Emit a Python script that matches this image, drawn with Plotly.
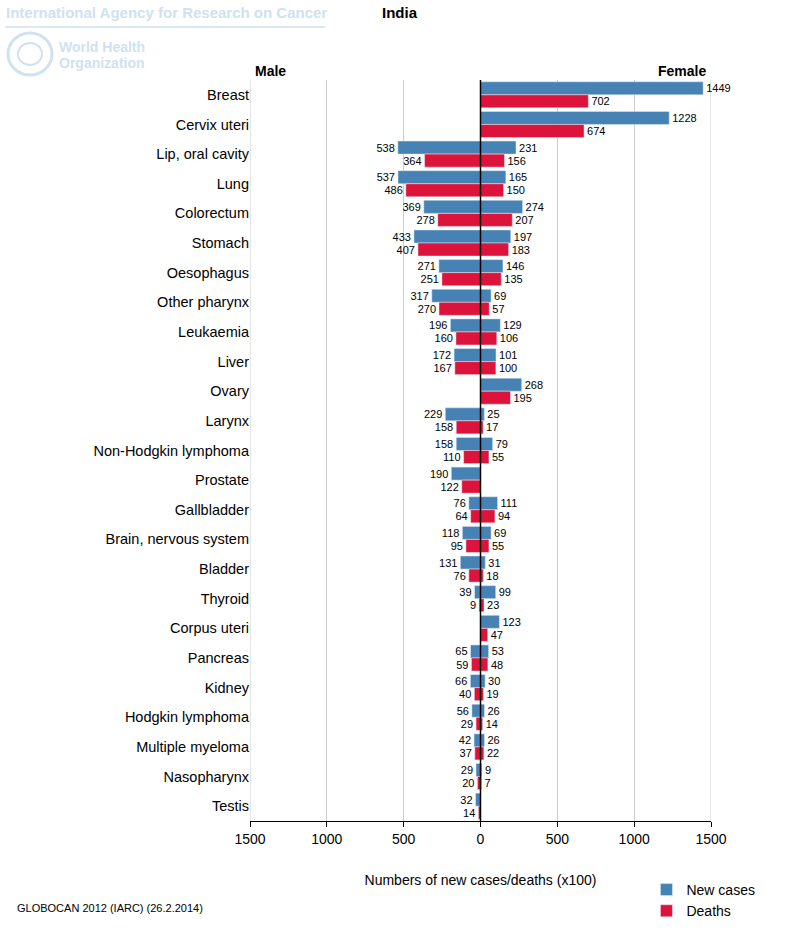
import plotly.graph_objects as go

categories = ["Breast", "Cervix uteri", "Lip, oral cavity", "Lung", "Colorectum", "Stomach",
              "Oesophagus", "Other pharynx", "Leukaemia", "Liver", "Ovary", "Larynx",
              "Non-Hodgkin lymphoma", "Prostate", "Gallbladder", "Brain, nervous system",
              "Bladder", "Thyroid", "Corpus uteri", "Pancreas", "Kidney", "Hodgkin lymphoma",
              "Multiple myeloma", "Nasopharynx", "Testis"]

male_new = [None, None, 538, 537, 369, 433, 271, 317, 196, 172, None, 229, 158, 190, 76, 118,
            131, 39, None, 65, 66, 56, 42, 29, 32]
male_deaths = [None, None, 364, 486, 278, 407, 251, 270, 160, 167, None, 158, 110, 122, 64, 95,
               76, 9, None, 59, 40, 29, 37, 20, 14]
female_new = [1449, 1228, 231, 165, 274, 197, 146, 69, 129, 101, 268, 25, 79, None, 111, 69,
              31, 99, 123, 53, 30, 26, 26, 9, None]
female_deaths = [702, 674, 156, 150, 207, 183, 135, 57, 106, 100, 195, 17, 55, None, 94, 55,
                 18, 23, 47, 48, 19, 14, 22, 7, None]

x_tickvals = [-1500, -1000, -500, 0, 500, 1000, 1500]
x_ticktext = ["1500", "1000", "500", "0", "500", "1000", "1500"]

BLUE = "#4682B4"
RED = "#DC143C"
FONT = "Liberation Sans, Arial, sans-serif"

idx = list(range(len(categories)))
y_new = [i - 0.22 for i in idx]
y_dea = [i + 0.22 for i in idx]

def neg(vals):
    return [(-v if v is not None else None) for v in vals]

def txt(vals):
    return [(str(v) if v is not None else "") for v in vals]

fig = go.Figure()
common = dict(orientation="h", width=0.44, textposition="outside", cliponaxis=False,
              constraintext="none", textfont=dict(size=11, color="black", family=FONT),
              hoverinfo="skip")
fig.add_trace(go.Bar(x=neg(male_new), y=y_new, text=txt(male_new), marker_color=BLUE,
                     name="New cases", legendgroup="new", showlegend=True, **common))
fig.add_trace(go.Bar(x=neg(male_deaths), y=y_dea, text=txt(male_deaths), marker_color=RED,
                     name="Deaths", legendgroup="dea", showlegend=True, **common))
fig.add_trace(go.Bar(x=female_new, y=y_new, text=txt(female_new), marker_color=BLUE,
                     name="New cases", legendgroup="new", showlegend=False, **common))
fig.add_trace(go.Bar(x=female_deaths, y=y_dea, text=txt(female_deaths), marker_color=RED,
                     name="Deaths", legendgroup="dea", showlegend=False, **common))

fig.update_layout(
    width=800, height=930,
    margin=dict(l=250, r=89, t=80, b=109, autoexpand=False),
    paper_bgcolor="white", plot_bgcolor="white",
    barmode="overlay",
    font=dict(family=FONT, size=14, color="black"),
    showlegend=True,
    legend=dict(x=0.86, y=-0.0715, xanchor="left", yanchor="top", font=dict(size=14),
                itemwidth=30, tracegroupgap=0, bgcolor="rgba(0,0,0,0)"),
    xaxis=dict(range=[-1500, 1500], tickvals=x_tickvals, ticktext=x_ticktext,
               showgrid=True, gridcolor="#cccccc", gridwidth=1, zeroline=False,
               showline=True, linecolor="black", linewidth=1, ticks="outside",
               ticklen=5, tickcolor="black", tickfont=dict(size=14), ticklabelstandoff=0,
               automargin=False,
               title=dict(text="Numbers of new cases/deaths (x100)", font=dict(size=14),
                          standoff=29)),
    yaxis=dict(range=[24.5, -0.5], tickvals=idx, ticktext=categories, showgrid=False,
               zeroline=False, showline=False, ticks="", tickfont=dict(size=14.5),
               automargin=False),
)

# zero line above bars
fig.add_shape(type="line", xref="x", yref="paper", x0=0, x1=0, y0=0, y1=1,
              line=dict(color="black", width=1.5), layer="above")
# outer gridlines
for xv in (-1500, 1500):
    fig.add_shape(type="line", xref="x", yref="paper", x0=xv, x1=xv, y0=0, y1=1,
                  line=dict(color="#cccccc", width=1), layer="below")

LB = "#cfe2f0"
ann = [
    dict(text="<b>International Agency for Research on Cancer</b>", x=4, y=2, size=15,
         color=LB, family=FONT, xanchor="left"),
    dict(text="<b>World Health</b>", x=57, y=37, size=14, color=LB,
         family=FONT, xanchor="left"),
    dict(text="<b>Organization</b>", x=57, y=53, size=14, color=LB,
         family=FONT, xanchor="left"),
    dict(text="<b>India</b>", x=400, y=2, size=15, color="black", family=FONT, xanchor="center"),
    dict(text="<b>Male</b>", x=253, y=61, size=14, color="black", family=FONT, xanchor="left"),
    dict(text="<b>Female</b>", x=708, y=61, size=14, color="black", family=FONT, xanchor="right"),
    dict(text="GLOBOCAN 2012 (IARC) (26.2.2014)", x=15, y=900, size=11, color="black",
         family=FONT, xanchor="left"),
]
for a in ann:
    fig.add_annotation(text=a["text"], xref="paper", yref="paper",
                       x=(a["x"] - 250) / 461, y=(821 - a["y"]) / 741,
                       xanchor=a["xanchor"], yanchor="top", showarrow=False,
                       font=dict(size=a["size"], color=a["color"], family=a["family"]))

# header underline
fig.add_shape(type="line", xref="paper", yref="paper",
              x0=(5 - 250) / 461, x1=(325 - 250) / 461,
              y0=(821 - 27) / 741, y1=(821 - 27) / 741,
              line=dict(color=LB, width=1.5))
# WHO emblem approximation
fig.add_shape(type="circle", xref="paper", yref="paper",
              x0=(8 - 250) / 461, x1=(52 - 250) / 461,
              y0=(821 - 75) / 741, y1=(821 - 33) / 741,
              line=dict(color=LB, width=3))
fig.add_shape(type="circle", xref="paper", yref="paper",
              x0=(18 - 250) / 461, x1=(42 - 250) / 461,
              y0=(821 - 65) / 741, y1=(821 - 43) / 741,
              line=dict(color=LB, width=2))

fig.write_html("out.html", config={"displayModeBar": False},
               post_script="document.body.style.margin='0';")
